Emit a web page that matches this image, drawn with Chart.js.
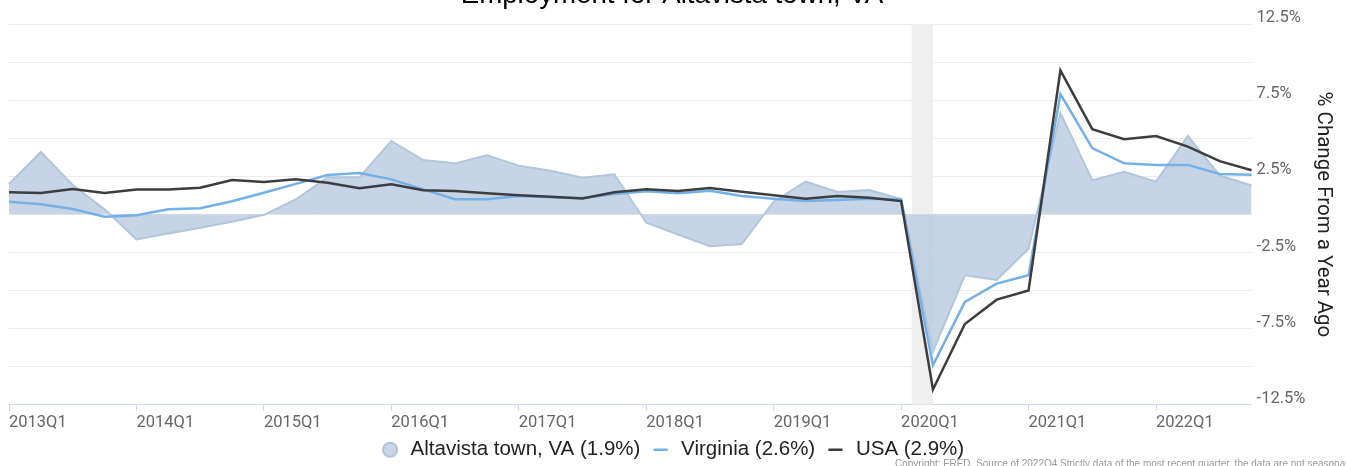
<!DOCTYPE html>
<html lang="en">
<head>
    <meta charset="UTF-8">
    <script src="https://cdn.jsdelivr.net/npm/chart.js"></script>
    <title>Employment for Altavista town, VA</title>
    <style>
        body { margin: 0; background: #fff; overflow: hidden; }
        .container { position: absolute; left: 0; top: -21px; width: 1346px; height: 491px; }
        .credit { position: absolute; left: 895px; top: 458px; font: 10px "Liberation Sans", Arial, sans-serif; color: #999; white-space: nowrap; }
    </style>
</head>
<body>
    <div class="container">
        <canvas id="mychart"></canvas>
    </div>
    <div class="credit">Copyright: FRED, Source of 2022Q4 Strictly data of the most recent quarter, the data are not seasonally adjusted</div>

    <script>
// quarters shown on the x axis
const quarters = [
    "2013Q1","2013Q2","2013Q3","2013Q4","2014Q1","2014Q2","2014Q3","2014Q4",
    "2015Q1","2015Q2","2015Q3","2015Q4","2016Q1","2016Q2","2016Q3","2016Q4",
    "2017Q1","2017Q2","2017Q3","2017Q4","2018Q1","2018Q2","2018Q3","2018Q4",
    "2019Q1","2019Q2","2019Q3","2019Q4","2020Q1","2020Q2","2020Q3","2020Q4",
    "2021Q1","2021Q2","2021Q3","2021Q4","2022Q1","2022Q2","2022Q3","2022Q4"
];

// % change from a year ago
const altavista = [2.0, 4.1, 1.93, 0.33, -1.65, -1.25, -0.88, -0.49,
    -0.03, 0.98, 2.43, 2.43, 4.82, 3.57, 3.35, 3.88,
    3.2, 2.87, 2.41, 2.63, -0.55, -1.32, -2.09, -1.95,
    0.83, 2.15, 1.47, 1.6, 1.0, -9.0, -4.0, -4.3,
    -2.25, 6.65, 2.25, 2.8, 2.15, 5.15, 2.55, 1.9];

const virginia = [0.83, 0.66, 0.35, -0.16, -0.05, 0.33, 0.4, 0.86,
    1.42, 2.0, 2.58, 2.72, 2.3, 1.64, 1.0, 0.99,
    1.2, 1.12, 1.07, 1.34, 1.52, 1.38, 1.55, 1.2,
    1.03, 0.87, 0.94, 1.03, 1.0, -9.9, -5.75, -4.55,
    -4.0, 7.9, 4.35, 3.35, 3.25, 3.25, 2.65, 2.6];

const usa = [1.45, 1.4, 1.66, 1.4, 1.64, 1.64, 1.75, 2.26,
    2.12, 2.3, 2.08, 1.71, 1.97, 1.58, 1.53, 1.38,
    1.25, 1.16, 1.05, 1.45, 1.65, 1.53, 1.73, 1.49,
    1.25, 1.03, 1.2, 1.09, 0.87, -11.5, -7.2, -5.6,
    -5.0, 9.45, 5.6, 4.93, 5.15, 4.45, 3.5, 2.9];

const seriesNames = ["Altavista town, VA (1.9%)", "Virginia (2.6%)", "USA (2.9%)"];

// recession shading: Feb 2020 (a third into 2020Q1) to 2020Q2
const recessions = [{ from: "2020Q1", fromPart: 1 / 3, to: "2020Q2", toPart: 0 }];

const yMin = -12.5, yMax = 12.5, yStep = 2.5;

const recessionPlugin = {
    id: 'recessions',
    beforeDatasetsDraw(chart) {
        const ctx = chart.ctx, x = chart.scales.x, area = chart.chartArea;
        const step = x.getPixelForValue(1) - x.getPixelForValue(0);
        ctx.save();
        ctx.fillStyle = '#efefef';
        recessions.forEach(r => {
            const x0 = x.getPixelForValue(quarters.indexOf(r.from)) + r.fromPart * step;
            const x1 = x.getPixelForValue(quarters.indexOf(r.to)) + r.toPart * step;
            ctx.fillRect(x0, area.top, x1 - x0, area.bottom - area.top);
        });
        ctx.restore();
    }
};

let mychart = document.getElementById("mychart").getContext('2d');
let charts = new Chart(mychart, {
    type: 'line',
    data: {
        labels: quarters,
        datasets: [{
            label: seriesNames[0],
            data: altavista,
            fill: 'origin',
            backgroundColor: 'rgba(185,203,224,0.82)',
            borderColor: '#b3c5da',
            borderWidth: 2,
            pointStyle: 'circle',
            order: 3
        }, {
            label: seriesNames[1],
            data: virginia,
            fill: false,
            borderColor: '#74b0e8',
            backgroundColor: '#74b0e8',
            borderWidth: 2.5,
            pointStyle: 'line',
            order: 2
        }, {
            label: seriesNames[2],
            data: usa,
            fill: false,
            borderColor: '#3d3d3f',
            backgroundColor: '#3d3d3f',
            borderWidth: 2.5,
            pointStyle: 'line',
            order: 1
        }]
    },
    options: {
        responsive: true,
        maintainAspectRatio: false,
        animation: false,
        elements: {
            line: { tension: 0 },
            point: { radius: 0, hoverRadius: 0 }
        },
        layout: { padding: { left: 9, right: 11, top: 0, bottom: 0 } },
        plugins: {
            title: {
                display: true,
                text: 'Employment for Altavista town, VA',
                color: '#000',
                font: { family: '"Liberation Sans", Arial, sans-serif', size: 27.7, weight: 'normal' },
                padding: { top: 0, bottom: 11.8 }
            },
            legend: {
                position: 'bottom',
                labels: {
                    usePointStyle: true,
                    boxHeight: 10,
                    color: '#222',
                    padding: 10,
                    font: { family: '"Liberation Sans", Arial, sans-serif', size: 20.5 },
                    sort: (a, b) => a.datasetIndex - b.datasetIndex
                }
            },
            tooltip: { enabled: false }
        },
        scales: {
            x: {
                afterFit: scale => { scale.height -= 5; },
                grid: {
                    drawOnChartArea: false,
                    tickLength: 6,
                    color: ctx => (ctx.tick && quarters[ctx.tick.value] && quarters[ctx.tick.value].endsWith('Q1')) ? '#ccd6eb' : 'rgba(0,0,0,0)'
                },
                border: { color: '#ccd6eb', width: 1 },
                ticks: {
                    autoSkip: false,
                    maxRotation: 0,
                    align: 'start',
                    padding: 2,
                    color: '#666',
                    font: { family: 'Roboto', size: 16.5 },
                    callback: function (value) {
                        const q = quarters[value];
                        return q.endsWith('Q1') ? q : '';
                    }
                }
            },
            y: {
                position: 'right',
                min: yMin,
                max: yMax,
                grid: { color: '#ececec', drawTicks: false },
                border: { display: false },
                ticks: {
                    stepSize: yStep,
                    padding: 5,
                    labelOffset: -6,
                    color: '#666',
                    font: { family: 'Roboto', size: 16.5 },
                    callback: (value, index) => index % 2 === 0 ? value.toFixed(1) + '%' : ''
                },
                title: {
                    display: true,
                    text: '% Change From a Year Ago',
                    color: '#222',
                    font: { family: 'Roboto', size: 20.5 },
                    padding: { top: 0, bottom: 0 }
                }
            }
        }
    },
    plugins: [recessionPlugin]
});
    </script>
</body>
</html>
